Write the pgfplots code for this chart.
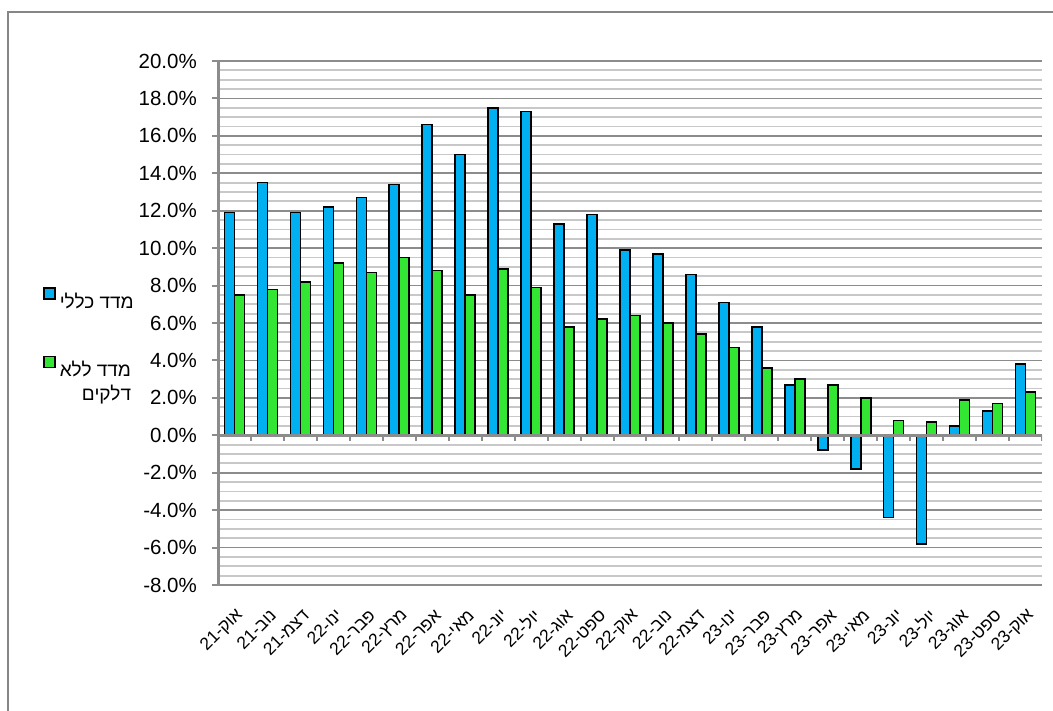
\documentclass[border=0pt]{standalone}
\usepackage{fontspec}
\setmainfont{Liberation Sans}
\newfontfamily\hebfont[Script=Hebrew]{Liberation Sans}
\usepackage{pgfplots}
\pgfplotsset{compat=1.18}
\TeXXeTstate=1

\definecolor{barblue}{HTML}{00B0F0}
\definecolor{bargreen}{HTML}{33E633}
\definecolor{majgrid}{HTML}{8C8C8C}
\definecolor{mingrid}{HTML}{C8C8C8}
\definecolor{framegray}{HTML}{868686}
\newcommand\chartfont{\fontsize{20.5bp}{24.6bp}\selectfont}
\newcommand\xlabfont{\fontsize{17.5bp}{20bp}\selectfont}
\newcommand\legfont{\fontsize{19bp}{24bp}\selectfont}

\begin{document}
\begin{tikzpicture}[x=1bp,y=1bp]
\useasboundingbox (0,0) rectangle (1053,-711);
\draw[framegray, line width=2bp] (8,-760) |- (1100,-12);
\begin{axis}[
    at={(218bp,-585bp)}, anchor=south west,
    scale only axis, width=824bp, height=524bp,
    ybar=0pt, bar width=10bp,
    xmin=-0.5, xmax=24.5, ymin=-8, ymax=20,
    separate axis lines,
    axis x line*=bottom, axis y line*=left,
    x axis line style={draw=none},
    y axis line style={majgrid, line width=3bp, -},
    xtick={0,...,24},
    xticklabels={אוק-21,נוב-21,דצמ-21,ינו-22,פבר-22,מרץ-22,אפר-22,מאי-22,יונ-22,יול-22,אוג-22,ספט-22,אוק-22,נוב-22,דצמ-22,ינו-23,פבר-23,מרץ-23,אפר-23,מאי-23,יונ-23,יול-23,אוג-23,ספט-23,אוק-23},
    xtick style={draw=none},
    xticklabel style={font=\xlabfont\hebfont, text=black, rotate=45, anchor=east, inner sep=0pt, xshift=-11bp, yshift=-19bp},
    ytick={-8,-6,...,20},
    minor y tick num=3,
    ymajorgrids, yminorgrids,
    major y grid style={majgrid, line width=1.8bp},
    minor y grid style={mingrid, line width=1.8bp},
    ytick style={majgrid, line width=2bp},
    tick align=outside, major tick length=6bp, minor tick length=0pt,
    ytick pos=left,
    yticklabel={\pgfmathprintnumber[fixed,fixed zerofill,precision=1]{\tick}\%},
    /pgf/number format/assume math mode=true,
    yticklabel style={font=\chartfont, text=black, inner sep=0pt, xshift=-15bp},
    legend style={draw=none, fill=none, inner sep=0pt,
      at={(axis description cs:-0.2124,0.5687)}, anchor=north west,
      nodes={inner sep=0pt}, column sep=4bp, row sep=46bp,
      font=\legfont\hebfont},
    legend cell align=left,
  ]
\addplot[fill=barblue, draw=black, line width=1.6bp,
  legend image code/.code={\draw[fill=barblue,draw=black,line width=1.6bp] (0bp,1.5bp) rectangle (11bp,12.5bp);}]
  coordinates {(0,11.9) (1,13.5) (2,11.9) (3,12.2) (4,12.7) (5,13.4) (6,16.6) (7,15.0) (8,17.5) (9,17.3)
    (10,11.3) (11,11.8) (12,9.9) (13,9.7) (14,8.6) (15,7.1) (16,5.8) (17,2.7) (18,-0.8) (19,-1.8)
    (20,-4.4) (21,-5.8) (22,0.5) (23,1.3) (24,3.8)};
\addplot[fill=bargreen, draw=black, line width=1.6bp,
  legend image code/.code={\draw[fill=bargreen,draw=black,line width=1.6bp] (0bp,1.5bp) rectangle (11bp,12.5bp);}]
  coordinates {(0,7.5) (1,7.8) (2,8.2) (3,9.2) (4,8.7) (5,9.5) (6,8.8) (7,7.5) (8,8.9) (9,7.9)
    (10,5.8) (11,6.2) (12,6.4) (13,6.0) (14,5.4) (15,4.7) (16,3.6) (17,3.0) (18,2.7) (19,2.0)
    (20,0.8) (21,0.7) (22,1.9) (23,1.7) (24,2.3)};
\legend{\begin{tabular}[t]{@{}r@{}}\beginR מדד כללי\endR\end{tabular},
  \begin{tabular}[t]{@{}r@{}}\beginR מדד ללא\endR\\\beginR דלקים\endR\end{tabular}}
\draw[majgrid, line width=2.5bp] (axis cs:-0.5,0) -- (axis cs:24.5,0);
\pgfplotsinvokeforeach{-0.5,0.5,...,24.5}{
  \draw[majgrid, line width=2bp] (axis cs:#1,0) -- ++(0pt,-6bp);
}
\end{axis}
\end{tikzpicture}
\end{document}
